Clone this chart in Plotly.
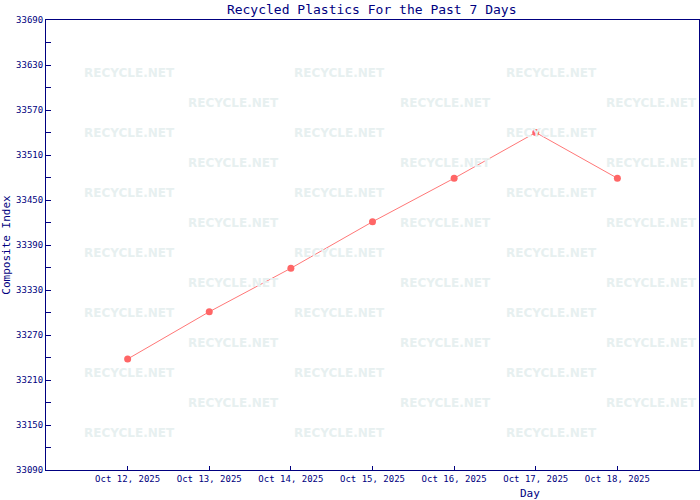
import plotly.graph_objects as go

days = ["2025-10-12", "2025-10-13", "2025-10-14", "2025-10-15",
        "2025-10-16", "2025-10-17", "2025-10-18"]
composite_index = [33238, 33301, 33359, 33421, 33479, 33540, 33479]

title_text = "Recycled Plastics For the Past 7 Days"
x_title = "Day"
y_title = "Composite Index"
watermark = "RECYCLE.NET"

NAVY = "#000080"
MONO = "DejaVu Sans Mono, Liberation Mono, monospace"

fig = go.Figure()
fig.add_trace(go.Scatter(
    x=days, y=composite_index, mode="lines+markers",
    line=dict(color="#ff7777", width=1),
    marker=dict(symbol="circle", size=7, color="#ff6666"),
    hoverinfo="skip", showlegend=False,
))

# faint repeated watermark (decoration)
L, R, T, B = 46, 1, 20, 30
W, H = 700 - L - R, 500 - T - B
annotations = []
for row in range(13):
    ypx = 73 + 30 * row
    cols = [82, 292, 504] if row % 2 == 0 else [186, 398, 604]
    for xpx in cols:
        annotations.append(dict(
            x=(xpx - L) / W, y=(500 - B - ypx) / H, xref="paper", yref="paper",
            xanchor="left", yanchor="middle", text="<b>" + watermark + "</b>", showarrow=False,
            font=dict(family="DejaVu Sans, Verdana, sans-serif", size=12, color="#e7f0f0"),
        ))
annotations.append(dict(
    x=(530 - L) / W, y=-(494 - 470) / H, xref="paper", yref="paper",
    xanchor="center", yanchor="middle", text=x_title, showarrow=False,
    font=dict(family=MONO, size=11, color=NAVY),
))

fig.update_layout(
    width=700, height=500,
    margin=dict(l=L, r=R, t=T, b=B, autoexpand=False),
    paper_bgcolor="white", plot_bgcolor="white",
    title=dict(text=title_text, x=0.531, xanchor="center",
               xref="container", yref="container", y=1 - 9 / 500, yanchor="middle",
               font=dict(family=MONO, size=13, color=NAVY)),
    annotations=annotations,
    xaxis=dict(
        type="date", range=["2025-10-11", "2025-10-19"], automargin=False,
        tickvals=days, tickformat="%b %d, %Y",
        ticks="inside", ticklen=4, tickcolor=NAVY,
        showline=True, linecolor=NAVY, linewidth=1, mirror=True,
        showgrid=False, zeroline=False,
        tickfont=dict(family=MONO, size=9, color=NAVY),
    ),
    yaxis=dict(
        range=[33090, 33690], tick0=33090, dtick=60, tickformat="d", automargin=False,
        ticks="inside", ticklen=5, tickcolor=NAVY,
        minor=dict(ticks="inside", dtick=30, ticklen=5, tickcolor=NAVY, showgrid=False),
        showline=True, linecolor=NAVY, linewidth=1, mirror=True,
        showgrid=False, zeroline=False,
        tickfont=dict(family=MONO, size=9, color=NAVY),
        title=dict(text=y_title, font=dict(family=MONO, size=11, color=NAVY), standoff=4),
    ),
)

fig.write_html(
    "out.html",
    config={"displayModeBar": False},
    post_script="document.body.style.margin='0';document.body.style.overflow='hidden';",
)
